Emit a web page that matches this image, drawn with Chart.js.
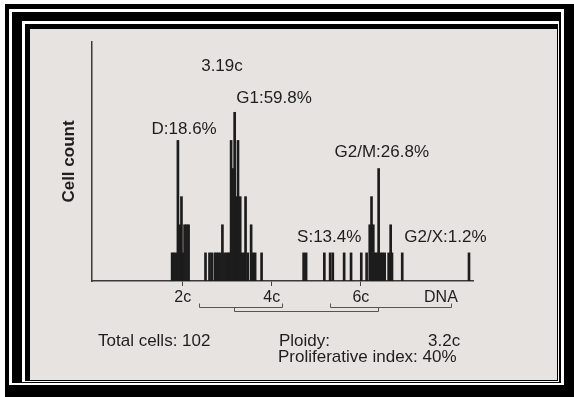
<!DOCTYPE html>
<html>
<head>
<meta charset="utf-8">
<script src="https://cdn.jsdelivr.net/npm/chart.js@4.4.0/dist/chart.umd.min.js"></script>
<style>
  body { margin: 0; width: 574px; height: 397px; overflow: hidden; position: relative; background: #fff;
         font-family: "Liberation Sans", Arial, Helvetica, sans-serif; color: #1e1e1e; }
  .fr { position: absolute; }
  #chart { position: absolute; left: 0; top: 0; }
  .txt { position: absolute; font-size: 17px; line-height: 20px; white-space: nowrap; }
</style>
</head>
<body>
<div class="fr" style="left:5px;top:4px;width:569px;height:393px;background:#000"></div>
<div class="fr" style="left:9px;top:9px;width:555px;height:376px;background:#fff"></div>
<div class="fr" style="left:12px;top:12px;width:549px;height:371px;background:#000"></div>
<div class="fr" style="left:22px;top:21px;width:537px;height:361px;background:#fff"></div>
<div class="fr" style="left:25px;top:24px;width:533px;height:357px;background:#000"></div>
<div class="fr" style="left:30px;top:29px;width:527px;height:351px;background:#e6e3e0"></div>
<canvas id="chart" width="574" height="397"></canvas>
<div class="txt" style="left:98px;top:331px">Total cells: 102</div>
<div class="txt" style="left:279px;top:331px">Ploidy:</div>
<div class="txt" style="left:428px;top:331px">3.2c</div>
<div class="txt" style="left:278px;top:347px">Proliferative index: 40%</div>
<script>
// DNA content (in c) of each histogram bin and its cell count
const dnaContent = [
  1.76, 1.80, 1.845, 1.89, 1.93, 1.97, 2.01, 2.04, 2.085, 2.13,
  2.51, 2.60, 2.65, 2.72, 2.76, 2.80, 2.845, 2.89, 2.935, 2.98, 3.02, 3.05,
  3.085, 3.12, 3.165, 3.21, 3.24, 3.29, 3.33, 3.38, 3.41, 3.46,
  3.535, 3.58, 3.625, 3.77,
  4.715, 4.77, 5.18, 5.31, 5.37, 5.625, 5.78, 6.01, 6.13,
  6.20, 6.24, 6.28, 6.32, 6.36, 6.40, 6.445, 6.49, 6.535,
  6.625, 6.67, 6.70, 6.93, 8.43
];
const cellCount = [
  1, 1, 1, 5, 2, 3, 1, 2, 2, 2,
  1, 1, 1, 1, 1, 1, 1, 2, 1, 1, 1, 1,
  5, 4, 6, 3, 5, 3, 1, 1, 3, 1,
  2, 1, 1, 1,
  1, 1, 1, 1, 1, 1, 1, 1, 1,
  2, 3, 2, 1, 1, 4, 1, 1, 1,
  1, 2, 1, 1, 1
];

// x axis ticks
const tickValues = [2, 4, 6, 7.8];
const tickLabels = ['2c', '4c', '6c', 'DNA'];

// phase labels
const phaseLabels = ['3.19c', 'G1:59.8%', 'D:18.6%', 'G2/M:26.8%', 'S:13.4%', 'G2/X:1.2%'];
const phaseDna = [2.88, 4.05, 2.03, 6.47, 5.29, 7.90];
const phaseCount = [7.65, 6.5, 5.39, 4.59, 1.55, 1.55];

// gating brackets under the axis (DNA ranges)
const bracketFrom = [2.37, 3.15, 5.31];
const bracketTo = [4.22, 6.39, 8.02];

const FONT = '"Liberation Sans", Arial, Helvetica, sans-serif';
const INK = '#1e1e1e';

const annotate = {
  id: 'annotate',
  afterDraw(chart) {
    const { ctx, scales: { x, y } } = chart;
    ctx.save();
    ctx.fillStyle = INK;
    ctx.font = '17px ' + FONT;
    ctx.textAlign = 'center';
    ctx.textBaseline = 'middle';
    phaseLabels.forEach((t, i) => {
      ctx.fillText(t, x.getPixelForValue(phaseDna[i]), y.getPixelForValue(phaseCount[i]));
    });

    // brackets
    ctx.strokeStyle = '#555';
    ctx.lineWidth = 1;
    const rows = [307.5, 311.5, 307.5];
    bracketFrom.forEach((a, i) => {
      const x0 = Math.round(x.getPixelForValue(a)) + 0.5;
      const x1 = Math.round(x.getPixelForValue(bracketTo[i])) + 0.5;
      const yy = rows[i];
      ctx.beginPath();
      ctx.moveTo(x0, yy - 4);
      ctx.lineTo(x0, yy);
      ctx.lineTo(x1, yy);
      ctx.lineTo(x1, yy - 4);
      ctx.stroke();
    });
    ctx.restore();
  }
};

new Chart(document.getElementById('chart'), {
  type: 'bar',
  data: {
    datasets: [{
      data: dnaContent.map((d, i) => ({ x: d, y: cellCount[i] })),
      backgroundColor: '#1c1c1c',
      barThickness: 2,
      borderWidth: 0
    }]
  },
  options: {
    responsive: false,
    animation: false,
    events: [],
    layout: { padding: { left: 0, top: 42, right: 101, bottom: 0 } },
    plugins: { legend: { display: false }, tooltip: { enabled: false } },
    scales: {
      x: {
        type: 'linear',
        min: -0.04,
        max: 8.52,
        offset: false,
        afterBuildTicks: (scale) => { scale.ticks = tickValues.map(v => ({ value: v })); },
        afterFit: (scale) => { scale.height = 116; },
        ticks: {
          autoSkip: false,
          maxRotation: 0,
          padding: 2,
          color: INK,
          font: { family: FONT, size: 16 },
          callback: (v, i) => tickLabels[i]
        },
        grid: {
          offset: false,
          drawOnChartArea: false,
          tickLength: 5,
          tickWidth: 1,
          tickColor: (c) => (c.tick && c.tick.value === 7.8 ? 'rgba(0,0,0,0)' : '#444')
        },
        border: { display: true, color: '#3a3a3a', width: 1.5 }
      },
      y: {
        min: 0,
        max: 8.5,
        afterFit: (scale) => { scale.width = 92; },
        ticks: { display: false },
        grid: { display: false },
        border: { display: true, color: '#3a3a3a', width: 1.5 },
        title: {
          display: true,
          text: 'Cell count',
          color: INK,
          font: { family: FONT, size: 17, weight: 'bold' },
          padding: { top: 59, bottom: 0 }
        }
      }
    }
  },
  plugins: [annotate]
});
</script>
</body>
</html>
